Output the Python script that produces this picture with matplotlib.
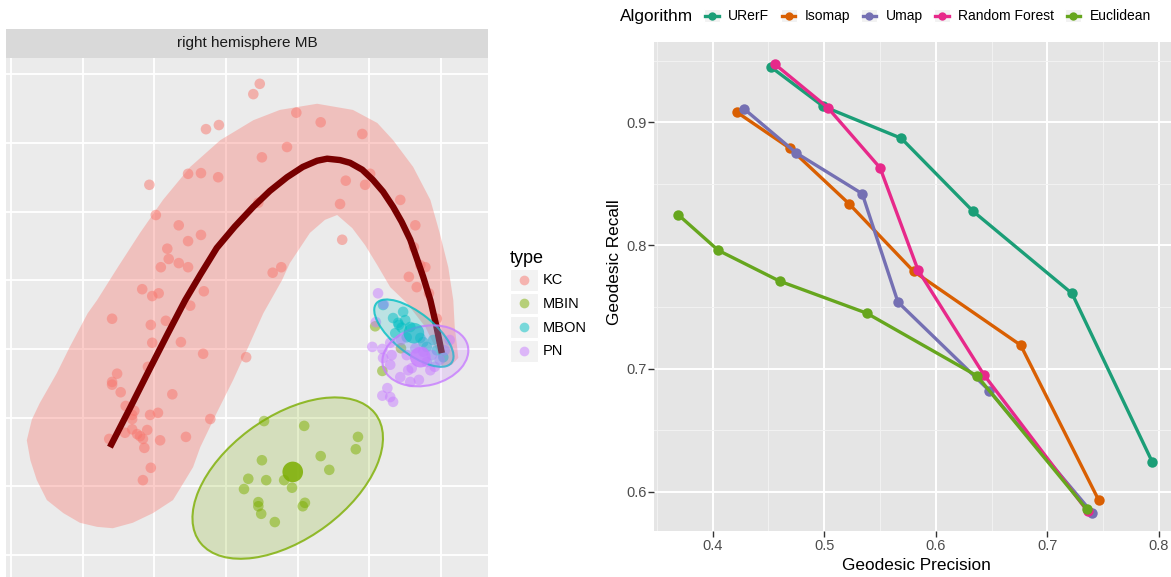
import matplotlib
matplotlib.use("Agg")
import matplotlib.pyplot as plt
from matplotlib import patches
from matplotlib.lines import Line2D
from matplotlib.legend_handler import HandlerBase

plt.rcParams["font.family"] = ["Liberation Sans", "DejaVu Sans"]

# ---- left panel: cell embedding, right hemisphere MB ----
TYPES = ["KC", "MBIN", "MBON", "PN"]
TYPE_COLORS = ["#F8766D", "#7CAE00", "#00BFC4", "#C77CFF"]

KC_X = [3.47, 3.38, 3.98, 4.32, 4.90, 2.72, 2.90, 1.93, 2.47, 2.65,
        2.89, 3.50, 3.85, 4.67, 5.01, 4.94, 5.43, 4.59, 3.45, 2.02,
        2.34, 2.65, 2.47, 5.64, 4.62, 5.62, 2.18, 2.20, 2.09, 2.34,
        2.47, 3.77, 3.65, 5.55, 5.71, 5.78, 5.66, 5.83, 1.83, 1.97,
        2.06, 2.69, 1.41, 1.95, 2.16, 2.50, 1.97, 2.37, 2.68, 3.28,
        1.48, 1.41, 1.41, 1.53, 2.25, 1.91, 1.60, 1.72, 1.69, 1.69,
        1.94, 2.05, 2.78, 1.37, 1.59, 1.69, 1.90, 1.76, 1.80, 1.84,
        1.86, 2.08, 2.44, 1.95, 1.84, 5.94]
KC_Y = [6.86, 6.71, 6.44, 6.30, 6.13, 6.20, 6.26, 5.39, 5.55, 5.56,
        5.50, 5.79, 5.94, 5.45, 5.55, 5.39, 5.17, 5.11, 5.13, 4.95,
        4.80, 4.66, 4.57, 4.80, 4.59, 4.48, 4.46, 4.31, 4.19, 4.25,
        4.19, 4.19, 4.11, 4.05, 4.22, 4.19, 3.90, 3.81, 3.87, 3.77,
        3.81, 3.84, 3.44, 3.35, 3.41, 3.63, 3.09, 3.10, 2.93, 2.88,
        2.64, 2.52, 2.48, 2.37, 2.34, 2.74, 2.17, 2.10, 2.04, 1.98,
        2.04, 2.07, 1.98, 1.69, 1.78, 1.83, 1.82, 1.76, 1.73, 1.69,
        1.56, 1.67, 1.72, 1.27, 1.09, 3.44]
MBIN_X = [3.53, 4.09, 4.84, 4.81, 4.32, 4.44, 3.50, 3.31, 3.56, 3.81, 3.92,
          3.25, 3.45, 3.45, 4.10, 4.07, 3.49, 3.68, 5.08, 5.18, 5.44]
MBIN_Y = [1.95, 1.88, 1.72, 1.54, 1.44, 1.24, 1.38, 1.11, 1.09, 1.09, 0.98,
          0.96, 0.77, 0.71, 0.76, 0.71, 0.60, 0.48, 3.33, 2.68, 3.01]
MBON_X = [5.19, 5.47, 5.33, 5.40, 5.50, 5.45, 5.36, 5.57, 5.52, 5.71, 5.75,
          5.80, 5.94, 6.03, 5.89, 5.41]
MBON_Y = [3.64, 3.54, 3.45, 3.38, 3.42, 3.31, 3.23, 3.32, 3.17, 3.16, 3.10,
          3.03, 2.98, 2.88, 3.13, 3.35]
PN_X = [5.12, 5.20, 5.09, 5.04, 5.18, 5.29, 5.19, 5.31, 5.29, 5.52, 5.43,
        5.54, 5.59, 5.57, 5.69, 5.85, 5.91, 5.98, 5.87, 5.80, 5.25, 5.18,
        5.29, 5.33, 5.44, 5.64, 5.75, 6.05, 6.12]
PN_Y = [3.81, 3.65, 3.39, 3.03, 3.00, 3.09, 2.87, 2.91, 2.77, 2.91, 2.59,
        2.69, 2.72, 2.52, 2.55, 2.69, 2.74, 2.84, 2.91, 2.81, 2.43, 2.32,
        2.30, 2.23, 3.13, 3.01, 2.96, 2.98, 3.13]

# group centres (MBIN, MBON, PN)
CENT_X = [3.93, 5.62, 5.71]
CENT_Y = [1.21, 3.23, 2.88]

# confidence ellipses (MBIN, MBON, PN)
ELL_CX = [3.86, 5.62, 5.78]
ELL_CY = [1.12, 3.23, 2.90]
ELL_W = [3.08, 1.36, 1.22]
ELL_H = [1.76, 0.58, 0.86]
ELL_ANGLE = [38, -40, 15]

# principal curve through KC
CURVE_X = [1.38, 1.66, 1.94, 2.19, 2.43, 2.64, 2.87, 3.12, 3.38, 3.61,
           3.85, 4.07, 4.27, 4.41, 4.59, 4.73, 4.90, 5.05, 5.19, 5.33,
           5.45, 5.57, 5.66, 5.75, 5.85, 5.93, 6.01]
CURVE_Y = [1.57, 2.14, 2.72, 3.23, 3.71, 4.08, 4.47, 4.78, 5.07, 5.30,
           5.50, 5.65, 5.74, 5.77, 5.75, 5.71, 5.61, 5.46, 5.29, 5.07,
           4.85, 4.59, 4.32, 4.05, 3.71, 3.35, 2.94]

# KC band outline
BAND_X = [0.22, 0.29, 0.40, 0.64, 0.82, 1.07, 1.20, 1.49, 1.80, 2.12,
          2.50, 2.92, 3.38, 3.75, 4.27, 4.77, 5.11, 5.33, 5.61, 5.85,
          5.98, 6.10, 6.17, 6.19, 6.22, 6.24, 6.15, 6.01,
          5.94, 5.78, 5.52, 5.29, 5.11, 4.94, 4.76, 4.55, 4.38, 4.17,
          3.89, 3.78, 3.52, 3.31, 3.10, 2.87, 2.64, 2.54, 2.43, 2.26,
          1.98, 1.70, 1.42, 1.20, 0.96, 0.73, 0.50, 0.36, 0.27]
BAND_Y = [1.67, 1.97, 2.21, 2.65, 3.03, 3.52, 3.71, 4.19, 4.69, 5.17,
          5.65, 6.04, 6.33, 6.48, 6.57, 6.48, 6.29, 6.04, 5.65, 5.17,
          4.69, 4.19, 3.71, 3.32, 3.06, 2.87, 2.77, 2.75,
          2.98, 3.32, 3.67, 3.90, 4.22, 4.51, 4.76, 4.95, 4.88, 4.69,
          4.25, 4.00, 3.52, 3.03, 2.55, 2.07, 1.57, 1.28, 1.09, 0.80,
          0.61, 0.47, 0.39, 0.41, 0.47, 0.61, 0.80, 1.09, 1.38]

# ---- right panel: geodesic precision / recall ----
ALGORITHMS = ["URerF", "Isomap", "Umap", "Random Forest", "Euclidean"]
ALGO_COLORS = ["#1B9E77", "#D95F02", "#7570B3", "#E7298A", "#66A61E"]
PRECISION = [
    [0.452, 0.499, 0.569, 0.633, 0.722, 0.794],
    [0.422, 0.469, 0.522, 0.580, 0.676, 0.746],
    [0.428, 0.475, 0.534, 0.566, 0.648, 0.740],
    [0.456, 0.503, 0.550, 0.584, 0.643, 0.736],
    [0.369, 0.405, 0.460, 0.538, 0.637, 0.735],
]
RECALL = [
    [0.945, 0.913, 0.887, 0.828, 0.761, 0.624],
    [0.908, 0.879, 0.834, 0.779, 0.719, 0.593],
    [0.911, 0.875, 0.842, 0.754, 0.682, 0.583],
    [0.947, 0.912, 0.863, 0.780, 0.695, 0.584],
    [0.825, 0.796, 0.771, 0.745, 0.694, 0.586],
]
X_TICKS = [0.4, 0.5, 0.6, 0.7, 0.8]
Y_TICKS = [0.6, 0.7, 0.8, 0.9]


class KeyHandler(HandlerBase):
    # ggplot-like key: grey square, optional line, point
    def create_artists(self, legend, orig_handle, xdescent, ydescent,
                       width, height, fontsize, trans):
        x0, y0 = -xdescent, -ydescent
        cx, cy = x0 + width / 2, y0 + height / 2
        arts = [patches.Rectangle((x0, y0), width, height, facecolor="#F2F2F2",
                                  edgecolor="white", lw=0.8, transform=trans)]
        if orig_handle.get_linestyle() not in ("None", "none", ""):
            arts.append(Line2D([x0 + width * 0.08, x0 + width * 0.92], [cy, cy],
                               color=orig_handle.get_color(),
                               lw=orig_handle.get_linewidth(), transform=trans))
        arts.append(Line2D([cx], [cy], marker="o", ls="none",
                           ms=orig_handle.get_markersize(),
                           color=orig_handle.get_color(),
                           alpha=orig_handle.get_alpha(), mec="none",
                           transform=trans))
        return arts


W, H = 1171, 577
fig = plt.figure(figsize=(W / 100, H / 100), dpi=100)

# left panel
ax = fig.add_axes([6 / W, 0, 482 / W, 519 / H])
ax.set_facecolor("#EBEBEB")
ax.set_xlim(-0.07, 6.654)
ax.set_ylim(-0.32, 7.236)
ax.set_xticks(range(0, 7))
ax.set_yticks(range(0, 8))
ax.tick_params(length=0, labelbottom=False, labelleft=False)
ax.grid(True, color="white", lw=1.3)
ax.set_axisbelow(True)
for s in ax.spines.values():
    s.set_visible(False)

ax.add_patch(patches.Polygon(list(zip(BAND_X, BAND_Y)), closed=True,
                             facecolor="#F8766D", alpha=0.36, edgecolor="none",
                             zorder=1))
groups = [(KC_X, KC_Y), (MBIN_X, MBIN_Y), (MBON_X, MBON_Y), (PN_X, PN_Y)]
for (gx, gy), col in zip(groups, TYPE_COLORS):
    ax.scatter(gx, gy, s=58, color=col, alpha=0.5, edgecolor="none", zorder=2)
ax.plot(CURVE_X, CURVE_Y, color="#780000", lw=4.6, solid_capstyle="butt",
        zorder=3)
for i in range(3):
    col = TYPE_COLORS[i + 1]
    ax.add_patch(patches.Ellipse((ELL_CX[i], ELL_CY[i]), ELL_W[i], ELL_H[i],
                                 angle=ELL_ANGLE[i], facecolor=col, alpha=0.2,
                                 edgecolor="none", zorder=4))
    ax.add_patch(patches.Ellipse((ELL_CX[i], ELL_CY[i]), ELL_W[i], ELL_H[i],
                                 angle=ELL_ANGLE[i], facecolor="none",
                                 edgecolor=col, alpha=0.8, lw=1.5, zorder=4))
    ax.scatter([CENT_X[i]], [CENT_Y[i]], s=220, color=col,
               alpha=[0.85, 0.6, 0.8][i], edgecolor="none", zorder=5)

# facet strip
strip = fig.add_axes([6 / W, 519 / H, 482 / W, 29 / H])
strip.set_facecolor("#D9D9D9")
strip.set_xticks([])
strip.set_yticks([])
for s in strip.spines.values():
    s.set_visible(False)
strip.text(0.5, 0.5, "right hemisphere MB", ha="center", va="center",
           fontsize=11, color="#1A1A1A", transform=strip.transAxes)

type_handles = [Line2D([], [], ls="none", marker="o", color=c, ms=7,
                       alpha=0.5, label=t) for t, c in zip(TYPES, TYPE_COLORS)]
leg1 = fig.legend(handles=type_handles, title="type", loc="upper left",
                  bbox_to_anchor=(510 / W, 1 - 250 / H), frameon=False,
                  fontsize=10.5, title_fontsize=13, alignment="left",
                  handlelength=1.9, handleheight=1.9, labelspacing=0.14,
                  handletextpad=0.35, borderpad=0, borderaxespad=0,
                  handler_map={Line2D: KeyHandler()})

# right panel
ax2 = fig.add_axes([654 / W, 46 / H, 517 / W, 489 / H])
ax2.set_facecolor("#E5E5E5")
for s in ax2.spines.values():
    s.set_visible(False)
ax2.set_xlim(0.3474, 0.8107)
ax2.set_ylim(0.5681, 0.9652)
ax2.set_xticks(X_TICKS)
ax2.set_xticklabels([f"{v:.1f}" for v in X_TICKS])
ax2.set_yticks(Y_TICKS)
ax2.set_yticklabels([f"{v:.1f}" for v in Y_TICKS])
ax2.set_xticks([0.35, 0.45, 0.55, 0.65, 0.75], minor=True)
ax2.set_yticks([0.65, 0.75, 0.85, 0.95], minor=True)
ax2.grid(True, which="major", color="white", lw=1.4)
ax2.grid(True, which="minor", color="#F2F2F2", lw=0.7)
ax2.set_axisbelow(True)
ax2.tick_params(which="major", length=4, width=1, color="#333333",
                labelsize=10.5, labelcolor="#4D4D4D", pad=1.5)
ax2.tick_params(which="minor", length=0)

for name, col, px, ry in zip(ALGORITHMS, ALGO_COLORS, PRECISION, RECALL):
    ax2.plot(px, ry, color=col, lw=2.4, marker="o", ms=7.5, mec="none",
             label=name, zorder=3)

fig.text(916 / W, 1 - 565 / H, "Geodesic Precision", ha="center",
         va="center", fontsize=12.4)
fig.text(615 / W, 1 - 262 / H, "Geodesic Recall", ha="center", va="center",
         rotation=90, fontsize=12.4)

fig.text(620 / W, 1 - 16 / H, "Algorithm", ha="left", va="center",
         fontsize=12.4)
algo_handles = [Line2D([], [], color=c, lw=2.4, marker="o", ms=6, alpha=1,
                       label=n) for n, c in zip(ALGORITHMS, ALGO_COLORS)]
fig.legend(handles=algo_handles, loc="center left",
           bbox_to_anchor=(704 / W, 1 - 16 / H), ncol=5, frameon=False,
           fontsize=10, handlelength=1.15, handleheight=1.15,
           handletextpad=0.6, columnspacing=0.8, borderpad=0, borderaxespad=0,
           handler_map={Line2D: KeyHandler()})

fig.savefig("out.png", dpi=100)
